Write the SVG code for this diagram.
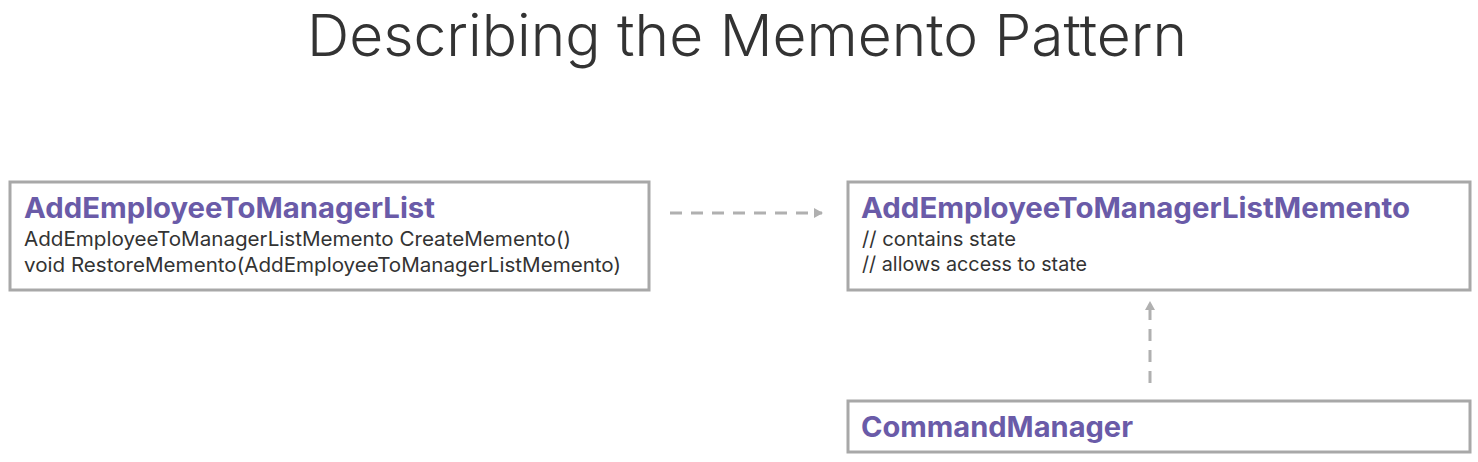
<svg xmlns="http://www.w3.org/2000/svg" width="1478" height="462" viewBox="0 0 1478 462">
<style>
.box{fill:#fff;stroke:#a8a8a8;stroke-width:3}
.ttl{font-family:Inter,"Noto Sans",sans-serif;font-weight:700;font-size:28px;fill:#6a5ba8}
.txt{font-family:Inter,"Noto Sans",sans-serif;font-size:20px;fill:#333}
.conn{stroke:#b0b0b0;stroke-width:3;stroke-dasharray:12 9;fill:none}
</style>
<defs>
<marker id="ah" markerWidth="10" markerHeight="10" refX="8" refY="5" orient="auto" markerUnits="userSpaceOnUse">
<path d="M0,0 L9,5 L0,10 Z" fill="#b0b0b0"/>
</marker>
</defs>
<rect width="1478" height="462" fill="#fff"/>
<text x="747" y="56" text-anchor="middle" font-family="Inter,'Noto Sans',sans-serif" font-weight="300" font-size="58" fill="#333" textLength="880" lengthAdjust="spacingAndGlyphs">Describing the Memento Pattern</text>
<g id="originator">
<rect class="box" x="10" y="182" width="639" height="108"/>
<text class="ttl" x="24" y="218" textLength="411" lengthAdjust="spacingAndGlyphs">AddEmployeeToManagerList</text>
<text class="txt" x="24" y="246" textLength="547" lengthAdjust="spacingAndGlyphs">AddEmployeeToManagerListMemento CreateMemento()</text>
<text class="txt" x="24" y="272" textLength="597" lengthAdjust="spacingAndGlyphs">void RestoreMemento(AddEmployeeToManagerListMemento)</text>
</g>
<g id="memento">
<rect class="box" x="848" y="182" width="622" height="108"/>
<text class="ttl" x="861" y="218" textLength="549" lengthAdjust="spacingAndGlyphs">AddEmployeeToManagerListMemento</text>
<text class="txt" x="862" y="246" textLength="154" lengthAdjust="spacingAndGlyphs">// contains state</text>
<text class="txt" x="862" y="271" textLength="225" lengthAdjust="spacingAndGlyphs">// allows access to state</text>
</g>
<g id="caretaker">
<rect class="box" x="848" y="401" width="622" height="51"/>
<text class="ttl" x="861" y="437" textLength="272" lengthAdjust="spacingAndGlyphs">CommandManager</text>
</g>
<g id="connectors">
<path class="conn" d="M670,213 L822,213" marker-end="url(#ah)"/>
<path class="conn" d="M1150,383 L1150,302" marker-end="url(#ah)"/>
</g>
</svg>
